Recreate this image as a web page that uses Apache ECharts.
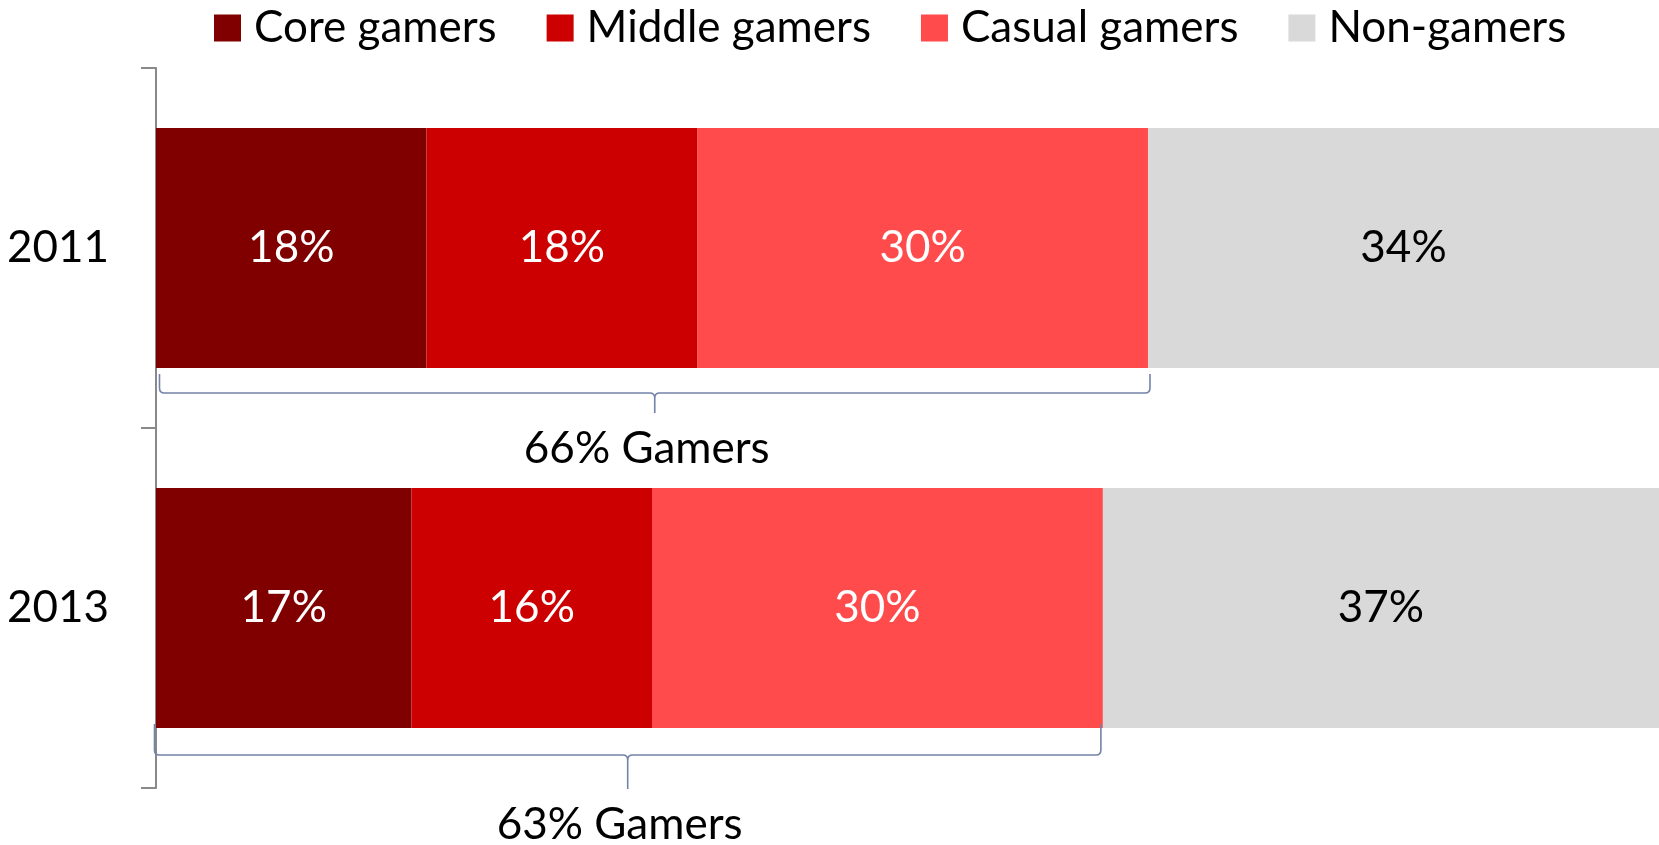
<!DOCTYPE html>
<html>
<head>
<meta charset="utf-8">
<title>Gamers share 2011 vs 2013</title>
<script src="https://cdn.jsdelivr.net/npm/echarts@6/dist/echarts.min.js"></script>
<style>
  html, body { margin: 0; padding: 0; background: #ffffff; }
  #chart { width: 1659px; height: 845px; }
</style>
</head>
<body>
<div id="chart"></div>
<script>
// Survey years (rows, top to bottom)
const years = ['2011', '2013'];

// Share of respondents per group, in percent
const seriesNames = ['Core gamers', 'Middle gamers', 'Casual gamers', 'Non-gamers'];
const coreGamers = [18, 17];
const middleGamers = [18, 16];
const casualGamers = [30, 30];
const nonGamers = [34, 37];

const seriesValues = [coreGamers, middleGamers, casualGamers, nonGamers];
const seriesColors = ['#800000', '#cc0000', '#ff4b4b', '#d9d9d9'];
const labelColors = ['#ffffff', '#ffffff', '#ffffff', '#000000'];

// Total gamers per year = core + middle + casual
const gamersTotal = years.map((_, i) => coreGamers[i] + middleGamers[i] + casualGamers[i]);

const FONT = 'Lato, "Open Sans", sans-serif';
const FS = 44;
const BAR_FRACTION = 2 / 3;   // bar thickness relative to category band

// Brace drawing tweaks per row (pixel offsets)
const braceLook = [
  { dxL: 3.5, dxR: 2, top: 6, line: 25, tip: 45 },
  { dxL: -1.5, dxR: -2, top: -4, line: 27, tip: 61 }
];

const barSeries = seriesNames.map((name, k) => ({
  name: name,
  type: 'bar',
  stack: 'total',
  barCategoryGap: ((1 - BAR_FRACTION) * 100) + '%',
  data: seriesValues[k],
  itemStyle: { color: seriesColors[k] },
  label: {
    show: true,
    position: 'inside',
    formatter: p => p.value + '%',
    color: labelColors[k],
    fontFamily: FONT,
    fontSize: FS
  },
  emphasis: { disabled: true }
}));

function renderBrace(params, api) {
  const row = api.value(2);
  const look = braceLook[row];
  const p0 = api.coord([api.value(0), row]);
  const p1 = api.coord([api.value(1), row]);
  const band = api.size([0, 1])[1];
  const barBottom = p0[1] + band * BAR_FRACTION / 2;
  const xL = p0[0] + look.dxL;
  const xR = p1[0] + look.dxR;
  const xC = (xL + xR) / 2;
  const yT = barBottom + look.top;
  const yM = barBottom + look.line;
  const yB = barBottom + look.tip;
  const r = 5;
  const d =
    'M' + xL + ' ' + yT +
    ' L' + xL + ' ' + (yM - r) +
    ' Q' + xL + ' ' + yM + ' ' + (xL + r) + ' ' + yM +
    ' L' + (xC - r) + ' ' + yM +
    ' Q' + xC + ' ' + yM + ' ' + xC + ' ' + (yM + r) +
    ' L' + xC + ' ' + yB +
    ' M' + xC + ' ' + (yM + r) +
    ' Q' + xC + ' ' + yM + ' ' + (xC + r) + ' ' + yM +
    ' L' + (xR - r) + ' ' + yM +
    ' Q' + xR + ' ' + yM + ' ' + xR + ' ' + (yM - r) +
    ' L' + xR + ' ' + yT;
  return {
    type: 'group',
    children: [
      {
        type: 'path',
        shape: { pathData: d },
        style: { fill: null, stroke: '#7382a8', lineWidth: 1.6 }
      },
      {
        type: 'text',
        x: xC - 8,
        y: yB + 36,
        style: {
          text: api.value(1) + '% Gamers',
          fill: '#000000',
          font: FS + 'px ' + FONT,
          align: 'center',
          verticalAlign: 'middle'
        }
      }
    ]
  };
}

const braceSeries = {
  name: 'Gamers',
  type: 'custom',
  coordinateSystem: 'cartesian2d',
  clip: false,
  z: 5,
  silent: true,
  renderItem: renderBrace,
  encode: { x: [0, 1], y: 2 },
  data: years.map((_, i) => [0, gamersTotal[i], i])
};

const chart = echarts.init(document.getElementById('chart'), null, { renderer: 'canvas' });

chart.setOption({
  animation: false,
  backgroundColor: '#ffffff',
  legend: {
    data: seriesNames,
    left: 209,
    top: 1,
    itemWidth: 27,
    itemHeight: 27,
    itemGap: 50,
    icon: 'rect',
    selectedMode: false,
    textStyle: {
      fontFamily: FONT,
      fontSize: FS,
      color: '#000000',
      padding: [0, 0, 0, 8]
    }
  },
  grid: {
    left: 156,
    top: 68,
    bottom: 57,
    right: -2,
    containLabel: false
  },
  xAxis: {
    type: 'value',
    min: 0,
    max: 100,
    show: false
  },
  yAxis: {
    type: 'category',
    data: years,
    inverse: true,
    axisLine: { lineStyle: { color: '#898989', width: 2 } },
    axisTick: { show: true, length: 15, lineStyle: { color: '#898989', width: 2 } },
    axisLabel: {
      margin: 47,
      color: '#000000',
      fontFamily: FONT,
      fontSize: FS
    }
  },
  series: barSeries.concat([braceSeries])
});
</script>
</body>
</html>
